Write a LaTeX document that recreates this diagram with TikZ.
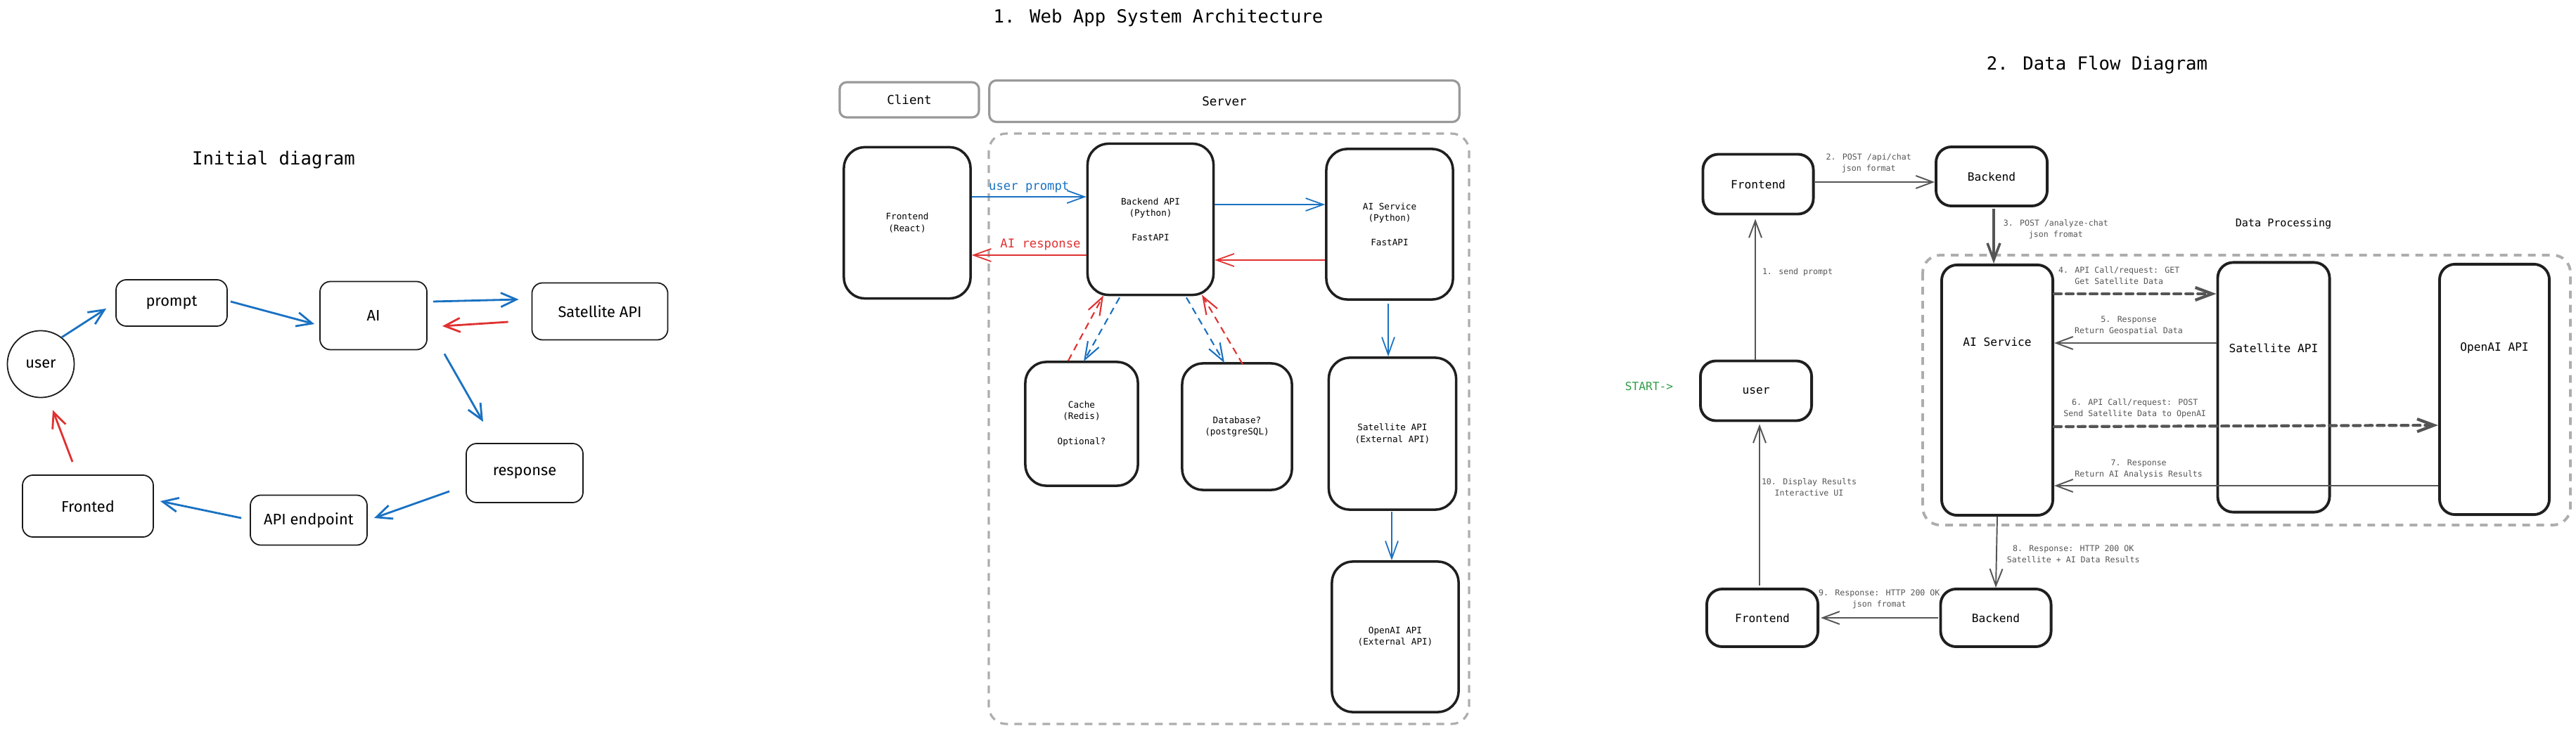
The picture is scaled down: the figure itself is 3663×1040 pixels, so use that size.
\documentclass[tikz,border=0pt]{standalone}
\usepackage{fontspec}
\newfontfamily\codefont{DejaVu Sans Mono}
\newfontfamily\handfont{Fira Sans}
\usetikzlibrary{arrows.meta,calc}
\definecolor{xblue}{HTML}{1971C2}
\definecolor{xred}{HTML}{E03131}
\definecolor{xgray}{HTML}{999999}
\definecolor{xlight}{HTML}{ADADAD}
\definecolor{xlabel}{HTML}{555555}
\definecolor{xgreen}{HTML}{2F9E44}
\tikzset{
  heading/.style={inner sep=0pt, font=\codefont\fontsize{7.3}{8.5}\selectfont},
  handbox/.style={draw=black!90, line width=0.5pt, rounded corners=0.15cm, inner sep=0pt,
    font=\handfont\fontsize{6.2}{7.2}\selectfont},
  handarrow/.style={line width=0.8pt, -{Straight Barb[length=0.22cm,width=0.2cm]}},
  archbox/.style={draw=black!88, line width=1pt, rounded corners=0.3cm, inner sep=0pt, align=center,
    font=\codefont\fontsize{3.6}{4.6}\selectfont},
  tierbox/.style={draw=xgray, line width=0.9pt, rounded corners=0.1cm, inner sep=0pt,
    font=\codefont\fontsize{5}{6}\selectfont},
  region/.style={draw=xlight, line width=0.9pt, dash pattern=on 0.11cm off 0.09cm, rounded corners=0.25cm},
  archarrow/.style={line width=0.5pt, -{Straight Barb[length=0.25cm,width=0.18cm]}},
  archdash/.style={archarrow, line width=0.6pt, dash pattern=on 0.1cm off 0.07cm},
  armlabel/.style={inner sep=0pt, font=\codefont\fontsize{4.9}{6}\selectfont},
  flowbox/.style={draw=black!88, line width=1.1pt, rounded corners=0.22cm, inner sep=0pt,
    font=\codefont\fontsize{4.6}{5.6}\selectfont},
  flowtext/.style={inner sep=0pt, font=\codefont\fontsize{4.6}{5.6}\selectfont},
  flowarrow/.style={draw=xlabel, line width=0.55pt, -{Straight Barb[length=0.24cm,width=0.18cm]}},
  calldash/.style={flowarrow, line width=1.2pt, dash pattern=on 0.1cm off 0.07cm, line cap=round},
  flowlabel/.style={text=xlabel, inner sep=0pt, align=center, font=\codefont\fontsize{3.3}{4.55}\selectfont},
}
\begin{document}
\begin{tikzpicture}[x=0.01cm,y=-0.01cm]
\useasboundingbox (0,0) rectangle (3663,1040);

% ---- initial diagram
\node[heading] (initial) at (389,227) {Initial diagram};
\node[handbox, shape=circle, rounded corners=0pt, minimum size=0.95cm] (user) at (58,518) {user};
\node[handbox, minimum width=1.58cm, minimum height=0.66cm] (prompt) at (244,431) {prompt};
\node[handbox, minimum width=1.52cm, minimum height=0.97cm] (ai) at (531,449) {AI};
\node[handbox, minimum width=1.93cm, minimum height=0.81cm] (satleft) at (853,443) {Satellite API};
\node[handbox, minimum width=1.66cm, minimum height=0.84cm] (response) at (746,673) {response};
\node[handbox, minimum width=1.66cm, minimum height=0.71cm] (endpoint) at (439,740) {API endpoint};
\node[handbox, minimum width=1.86cm, minimum height=0.88cm] (fronted) at (125,720) {Fronted};

\draw[handarrow, xblue] (user.52) -- ([shift={(-13,8)}]prompt.west);
\draw[handarrow, xblue] ([shift={(4,-2)}]prompt.east) -- ([shift={(-7,12)}]ai.west);
\draw[handarrow, xblue] ([shift={(8,-20)}]ai.east) -- ([shift={(-18,-17)}]satleft.west);
\draw[handarrow, xred] ([shift={(-33,15)}]satleft.west) -- ([shift={(21,15)}]ai.east);
\draw[handarrow, xblue] ([shift={(24,5)}]ai.south east) -- ([shift={(-59,-30)}]response.north);
\draw[handarrow, xblue] ([shift={(-23,26)}]response.west) -- ([shift={(9,-3)}]endpoint.east);
\draw[handarrow, xblue] ([shift={(-12,-3)}]endpoint.west) -- ([shift={(9,-7)}]fronted.east);
\draw[handarrow, xred] ([shift={(-22,-18)}]fronted.north) -- ([shift={(17,17)}]user.south);

% ---- 1. web app system architecture
\node[heading] (archtitle) at (1647,25) {1. Web App System Architecture};
\node[tierbox, minimum width=1.98cm, minimum height=0.5cm] (client) at (1293,142) {Client};
\node[tierbox, minimum width=6.68cm, minimum height=0.59cm] (server) at (1741,144) {Server};
\draw[region] (1406,190) rectangle (2089,1030);

\node[archbox, minimum width=1.8cm, minimum height=2.15cm] (frontend) at (1290,317) {Frontend\\(React)};
\node[archbox, minimum width=1.79cm, minimum height=2.15cm] (backend) at (1636,312) {Backend API\\(Python)\\[0.19cm]FastAPI};
\node[archbox, minimum width=1.8cm, minimum height=2.14cm] (aiservice) at (1976,319) {AI Service\\(Python)\\[0.19cm]FastAPI};
\node[archbox, minimum width=1.6cm, minimum height=1.76cm] (cache) at (1538,603) {Cache\\(Redis)\\[0.19cm]Optional?};
\node[archbox, minimum width=1.56cm, minimum height=1.8cm] (database) at (1759,607) {Database?\\(postgreSQL)};
\node[archbox, minimum width=1.81cm, minimum height=2.16cm] (satapi) at (1980,617) {Satellite API\\(External API)};
\node[archbox, minimum width=1.8cm, minimum height=2.14cm] (openai) at (1984,906) {OpenAI API\\(External API)};

\draw[archarrow, xblue] ([shift={(0,-37)}]frontend.east) -- node[armlabel, above=0.05cm, text=xblue] {user prompt} ([shift={(0,-32)}]backend.west);
\draw[archarrow, xred] ([shift={(0,51)}]backend.west) -- node[armlabel, above=0.06cm, pos=0.4, text=xred] {AI response} ([shift={(0,46)}]frontend.east);
\draw[archarrow, xblue] ([shift={(0,-21)}]backend.east) -- ([shift={(0,-28)}]aiservice.west);
\draw[archarrow, xred] ([shift={(0,51)}]aiservice.west) -- ([shift={(0,58)}]backend.east);
\draw[archarrow, xblue] ([shift={(-2,4)}]aiservice.south) -- ([shift={(-6,0)}]satapi.north);
\draw[archarrow, xblue] ([shift={(-1,1)}]satapi.south) -- ([shift={(-5,0)}]openai.north);
\draw[archdash, xred] ([shift={(-19,0)}]cache.north) -- ([shift={(-67,-1)}]backend.south);
\draw[archdash, xblue] ([shift={(-44,2)}]backend.south) -- ([shift={(3,1)}]cache.north);
\draw[archdash, xblue] ([shift={(51,2)}]backend.south) -- ([shift={(-18,1)}]database.north);
\draw[archdash, xred] ([shift={(8,3)}]database.north) -- ([shift={(73,-2)}]backend.south);

% ---- 2. data flow diagram
\node[heading] (flowtitle) at (2982,92) {2. Data Flow Diagram};
\node[flowtext, text=xgreen] (start) at (2345,550) {START->};
\node[flowtext, font=\codefont\fontsize{4.3}{5.3}\selectfont] (dataproc) at (3247,318) {Data Processing};
\draw[region, line width=1.1pt] (2734,363) rectangle (3655,747);

\node[flowbox, minimum width=1.57cm, minimum height=0.85cm] (fronttop) at (2500,262) {Frontend};
\node[flowbox, minimum width=1.58cm, minimum height=0.84cm] (backtop) at (2832,251) {Backend};
\node[flowbox, minimum width=1.58cm, minimum height=0.85cm] (userbox) at (2497,556) {user};
\node[flowbox, minimum width=1.58cm, minimum height=3.56cm,
  label={[flowtext, yshift=0.68cm]center:AI Service}] (aisvc) at (2840,555) {};
\node[flowbox, minimum width=1.59cm, minimum height=3.55cm,
  label={[flowtext, yshift=0.56cm]center:Satellite API}] (satbox) at (3233,551) {};
\node[flowbox, minimum width=1.56cm, minimum height=3.56cm,
  label={[flowtext, yshift=0.59cm]center:OpenAI API}] (openbox) at (3547,554) {};
\node[flowbox, minimum width=1.57cm, minimum height=0.82cm] (backbot) at (2838,879) {Backend};
\node[flowbox, minimum width=1.58cm, minimum height=0.82cm] (frontbot) at (2506,879) {Frontend};

\draw[flowarrow] ([shift={(-1,0)}]userbox.north) -- node[flowlabel, right=0.09cm, pos=0.62] {1. send prompt} ([shift={(-4,5)}]fronttop.south);
\draw[flowarrow] ([shift={(0,-3)}]fronttop.east) -- node[flowlabel, above=0.12cm, pos=0.45] {2. POST /api/chat\\json format} ([shift={(0,8)}]backtop.west);
\draw[flowarrow, line width=1pt] ([shift={(3,2)}]backtop.south) -- node[flowlabel, right=0.12cm, pos=0.38] {3. POST /analyze-chat\\json fromat} ([shift={(-5,0)}]aisvc.north);
\draw[calldash] ([shift={(0,-137)}]aisvc.east) -- node[flowlabel, above=0.11cm, pos=0.4] {4. API Call/request: GET\\Get Satellite Data} ([shift={(0,-133)}]satbox.west);
\draw[flowarrow] ([shift={(0,-63)}]satbox.west) -- node[flowlabel, above=0.1cm, pos=0.54] {5. Response\\Return Geospatial Data} ([shift={(0,-67)}]aisvc.east);
\draw[calldash] ([shift={(0,52)}]aisvc.east) -- node[flowlabel, above=0.1cm, pos=0.21] {6. API Call/request: POST\\Send Satellite Data to OpenAI} ([shift={(0,51)}]openbox.west);
\draw[flowarrow] ([shift={(0,137)}]openbox.west) -- node[flowlabel, above=0.09cm, pos=0.78] {7. Response\\Return AI Analysis Results} ([shift={(0,136)}]aisvc.east);
\draw[flowarrow] (aisvc.south) -- node[flowlabel, right=0.14cm, pos=0.53] {8. Response: HTTP 200 OK\\Satellite + AI Data Results} (backbot.north);
\draw[flowarrow] ([shift={(-2,0)}]backbot.west) -- node[flowlabel, above=0.12cm] {9. Response: HTTP 200 OK\\json fromat} ([shift={(2,0)}]frontbot.east);
\draw[flowarrow] ([shift={(-4,-3)}]frontbot.north) -- node[flowlabel, right=0.02cm, pos=0.61] {10. Display Results\\Interactive UI} ([shift={(5,3)}]userbox.south);
\end{tikzpicture}
\end{document}
